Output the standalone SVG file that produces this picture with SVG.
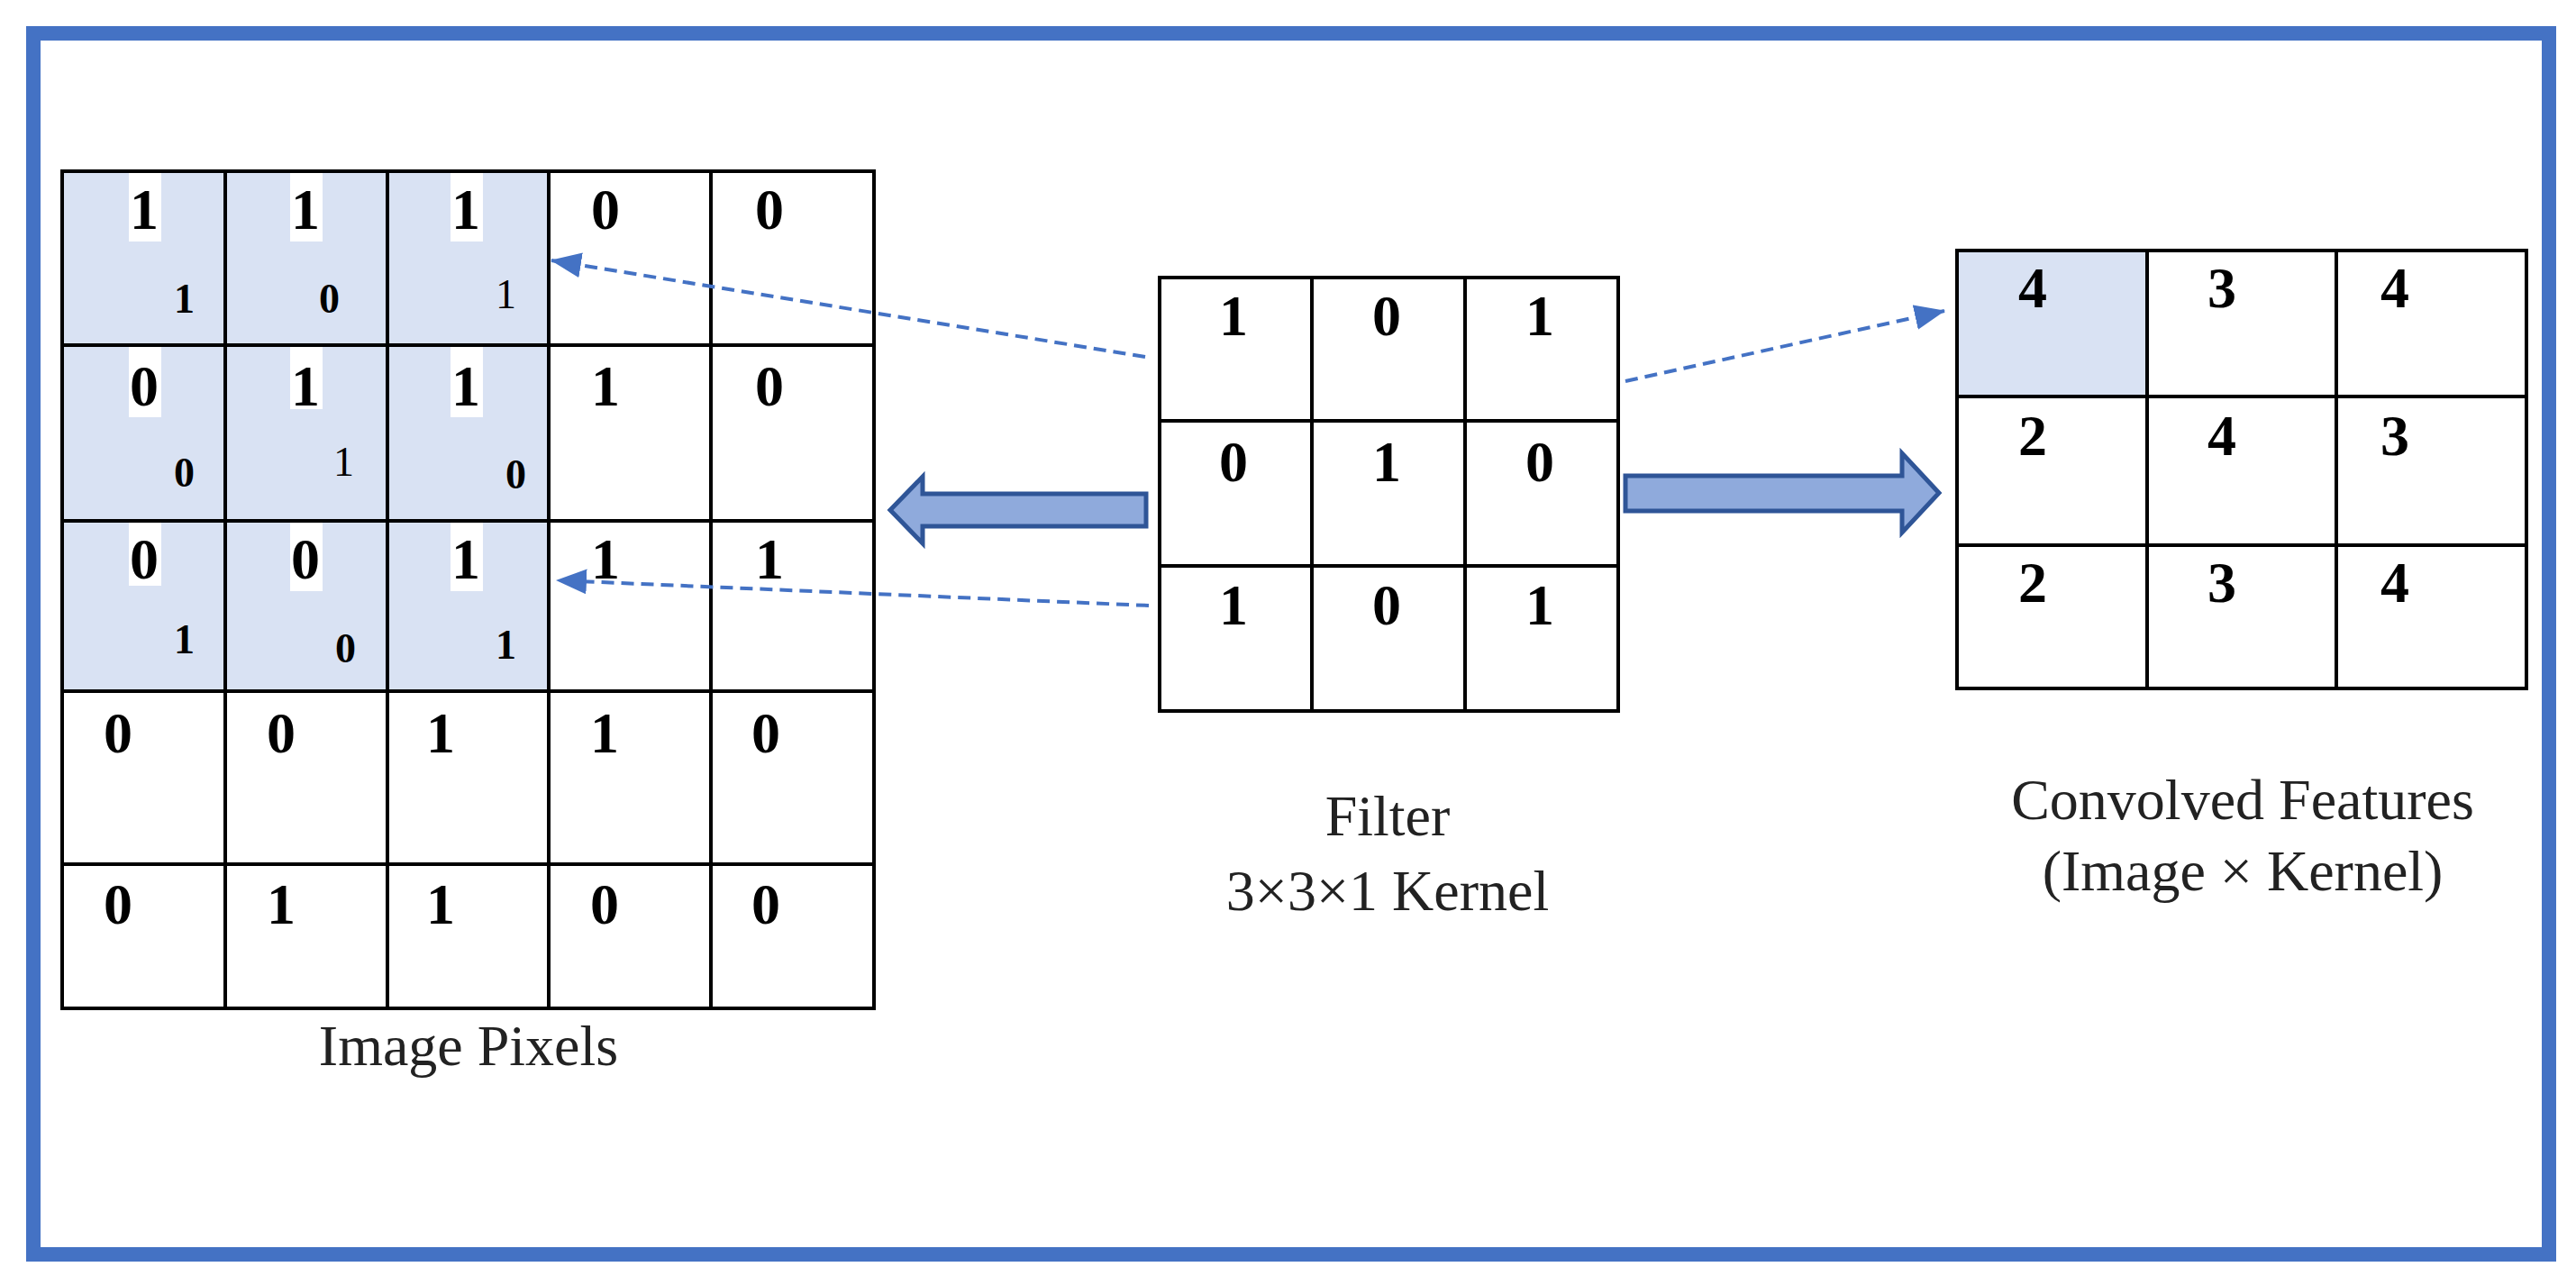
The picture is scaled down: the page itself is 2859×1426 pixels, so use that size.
<svg xmlns="http://www.w3.org/2000/svg" width="2859" height="1426" viewBox="0 0 2859 1426">
<style>
.g{fill:none;stroke:#000;stroke-width:4}
.sh{fill:#D9E2F3}
.b{font-family:"Liberation Serif",serif;font-weight:bold;font-size:64px;fill:#000}
.s{font-family:"Liberation Serif",serif;font-weight:bold;font-size:46px;fill:#000}
.sn{font-family:"Liberation Serif",serif;font-size:46px;fill:#000}
.l{font-family:"Liberation Serif",serif;font-size:64px;fill:#222;text-anchor:middle}
.d{fill:none;stroke:#4472C4;stroke-width:4;stroke-dasharray:14 8}
.ba{fill:#8FAADC;stroke:#2F5597;stroke-width:5}
</style>
<defs><marker id="ah" markerWidth="34" markerHeight="28" refX="33" refY="14" orient="auto" markerUnits="userSpaceOnUse" viewBox="0 0 34 28"><path d="M0,0 L34,14 L0,28 Z" fill="#4472C4"/></marker></defs>
<rect width="2859" height="1426" fill="#fff"/>
<rect x="37" y="37" width="2792" height="1355" fill="none" stroke="#4472C4" stroke-width="16"/>
<g id="image-pixels">
<rect class="sh" x="69" y="190" width="540" height="577"/>
<g fill="#fff">
<rect x="143" y="191" width="36" height="77"/><rect x="322" y="191" width="36" height="77"/><rect x="500" y="191" width="36" height="77"/>
<rect x="143" y="384" width="36" height="79"/><rect x="322" y="384" width="36" height="70"/><rect x="500" y="384" width="36" height="79"/>
<rect x="143" y="579" width="36" height="71"/><rect x="322" y="579" width="36" height="77"/><rect x="500" y="579" width="36" height="77"/>
</g>
<path class="g" d="M69 190H970V1119H69Z M250 190V1119 M430 190V1119 M609 190V1119 M789 190V1119 M69 383H970 M69 578H970 M69 767H970 M69 959H970"/>
<g class="b">
<text x="144" y="254">1</text><text x="323" y="254">1</text><text x="501" y="254">1</text><text x="656" y="254">0</text><text x="838" y="254">0</text>
<text x="144" y="450">0</text><text x="323" y="450">1</text><text x="501" y="450">1</text><text x="656" y="450">1</text><text x="838" y="450">0</text>
<text x="144" y="642">0</text><text x="323" y="642">0</text><text x="501" y="642">1</text><text x="656" y="642">1</text><text x="838" y="642">1</text>
<text x="115" y="835">0</text><text x="296" y="835">0</text><text x="473" y="835">1</text><text x="655" y="835">1</text><text x="834" y="835">0</text>
<text x="115" y="1025">0</text><text x="296" y="1025">1</text><text x="473" y="1025">1</text><text x="655" y="1025">0</text><text x="834" y="1025">0</text>
</g>
<g class="s">
<text x="193" y="347">1</text><text x="354" y="347">0</text>
<text x="193" y="540">0</text><text x="561" y="542">0</text>
<text x="193" y="725">1</text><text x="372" y="735">0</text><text x="550" y="731">1</text>
</g>
<g class="sn"><text x="550" y="342">1</text><text x="370" y="528">1</text></g>
<text class="l" x="520" y="1182">Image Pixels</text>
</g>
<g id="filter">
<path class="g" d="M1287 308H1796V789H1287Z M1456 308V789 M1626 308V789 M1287 467H1796 M1287 628H1796"/>
<g class="b">
<text x="1353" y="372">1</text><text x="1523" y="372">0</text><text x="1693" y="372">1</text>
<text x="1353" y="534">0</text><text x="1523" y="534">1</text><text x="1693" y="534">0</text>
<text x="1353" y="693">1</text><text x="1523" y="693">0</text><text x="1693" y="693">1</text>
</g>
<text class="l" x="1540" y="927">Filter</text>
<text class="l" x="1540" y="1010">3×3×1 Kernel</text>
</g>
<g id="convolved">
<rect class="sh" x="2172" y="278" width="211" height="162"/>
<path class="g" d="M2172 278H2804V764H2172Z M2383 278V764 M2593 278V764 M2172 440H2804 M2172 605H2804"/>
<g class="b">
<text x="2240" y="341">4</text><text x="2450" y="341">3</text><text x="2642" y="341">4</text>
<text x="2240" y="505">2</text><text x="2450" y="505">4</text><text x="2642" y="505">3</text>
<text x="2240" y="668">2</text><text x="2450" y="668">3</text><text x="2642" y="668">4</text>
</g>
<text class="l" x="2489" y="909">Convolved Features</text>
<text class="l" x="2489" y="988">(Image × Kernel)</text>
</g>
<g id="connectors">
<path class="d" d="M1271 396L612 289" marker-end="url(#ah)"/>
<path class="d" d="M1275 672L618 644" marker-end="url(#ah)"/>
<path class="d" d="M1804 423L2158 345" marker-end="url(#ah)"/>
<path class="ba" d="M1272 548V584H1024V603L988 566L1024 529V548Z"/>
<path class="ba" d="M1804 528V567H2111V591L2152 547L2111 503V528Z"/>
</g>
</svg>
